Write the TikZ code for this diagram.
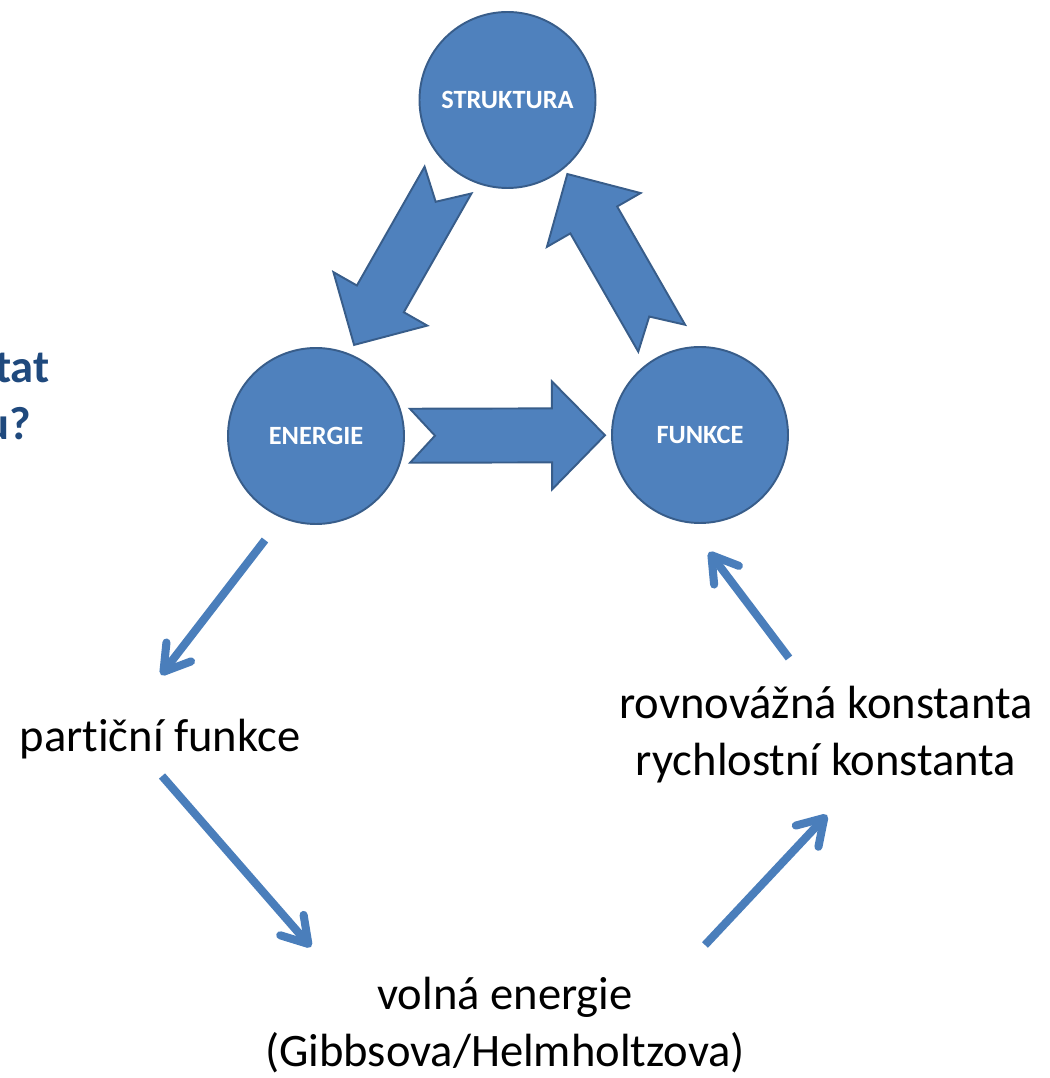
\documentclass[tikz,border=0pt]{standalone}
\usepackage{fontspec}
\setmainfont{Carlito}[Ligatures=NoCommon]
\usetikzlibrary{arrows.meta,calc}

\definecolor{ringblue}{HTML}{4F81BD}
\definecolor{ringedge}{HTML}{385D8A}
\definecolor{lineblue}{HTML}{4A7EBB}
\definecolor{questblue}{HTML}{1F497D}

% notched block arrow from #1 (tail) to #2 (tip)
\newcommand{\notcharrow}[2]{%
  \coordinate (nh) at ($(#2)!1.06cm!(#1)$);
  \filldraw[blockarr] ($(#1)!0.54cm!90:(#2)$) -- ($(#1)!0.5cm!(#2)$) -- ($(#1)!0.54cm!-90:(#2)$)
    -- ($(nh)!0.54cm!-90:(#2)$) -- ($(nh)!1.08cm!-90:(#2)$) -- (#2)
    -- ($(nh)!1.08cm!90:(#2)$) -- ($(nh)!0.54cm!90:(#2)$) -- cycle;
}

\begin{document}
\begin{tikzpicture}[
    ring/.style={circle, draw=ringedge, line width=1.1pt, fill=ringblue, minimum size=3.52cm, inner sep=0pt, text=white, font=\fontsize{15}{18}\selectfont\bfseries},
    blockarr/.style={draw=ringedge, line width=1.1pt, fill=ringblue, line join=miter},
    txt/.style={align=center, inner sep=0pt, font=\fontsize{26.5}{32.4}\selectfont},
    quest/.style={anchor=base east, inner sep=0pt, text=questblue, font=\fontsize{26.5}{32.4}\selectfont\bfseries},
    arr/.style={-{Straight Barb[length=0.5cm, width=0.62cm, round]}, line width=4.6pt, draw=lineblue}
]
\useasboundingbox (0,0) rectangle (20.98,21.56);

% cut-off question on the left
\node[quest] (q1) at (1.0,13.9)   {tat};
\node[quest] (q2) at (0.62,12.76) {u?};

% triangle of circles
\node[ring] (struktura) at (10.15,19.56) {STRUKTURA};
\node[ring] (energie)   at (6.32,12.84)  {ENERGIE};
\node[ring] (funkce)    at (14.0,12.86)  {FUNKCE};

\coordinate (se0) at ($(struktura.center)!1.98cm!(energie.center)!0.24cm!-90:(energie.center)$);
\coordinate (se1) at ($(energie.center)!1.96cm!(struktura.center)!0.24cm!90:(struktura.center)$);
\coordinate (ef0) at ($(energie.center)!1.88cm!(funkce.center)$);
\coordinate (ef1) at ($(funkce.center)!1.9cm!(energie.center)$);
\coordinate (fs0) at ($(funkce.center)!2.06cm!(struktura.center)!0.3cm!-90:(struktura.center)$);
\coordinate (fs1) at ($(struktura.center)!1.88cm!(funkce.center)!0.3cm!90:(funkce.center)$);

\notcharrow{se0}{se1}
\notcharrow{ef0}{ef1}
\notcharrow{fs0}{fs1}

% lower cycle
\node[txt, anchor=base] (partic) at (3.2,6.52)   {part\kern0pt iční funkce};
\node[txt] (volna)  at (10.1,1.06)  {volná energie\\(Gibbsova/Helmholtzova)};
\node[txt] (konst)  at (16.52,6.87) {rovnovážná konstanta\\rychlostní konstanta};

\draw[arr] ([shift={(-1.02,-2.08)}]energie.center) -- ([shift={(0.02,1.54)}]partic.base);
\draw[arr] ([shift={(0.04,-0.48)}]partic.base)     -- ([shift={(-3.88,1.56)}]volna.center);
\draw[arr] ([shift={(4.0,1.6)}]volna.center)       -- ([shift={(0.02,-1.61)}]konst.center);
\draw[arr] ([shift={(-0.74,1.53)}]konst.center)    -- ([shift={(0.18,-2.34)}]funkce.center);
\end{tikzpicture}
\end{document}
